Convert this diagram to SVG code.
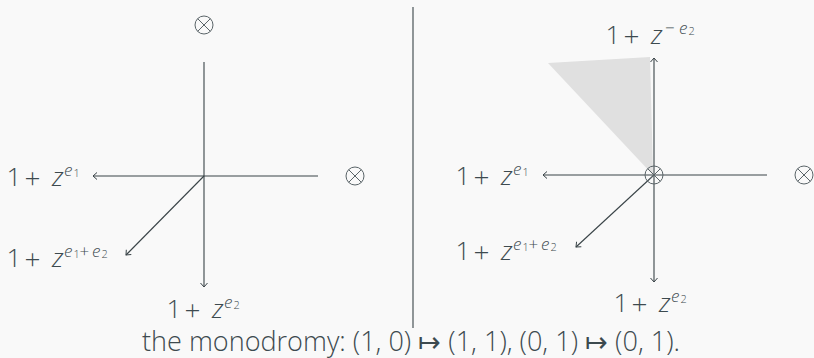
<svg xmlns="http://www.w3.org/2000/svg" width="814" height="358" viewBox="0 0 814 358">
<style>
text{font-family:"Open Sans","Noto Sans","DejaVu Sans",sans-serif;fill:#3d4a4f;font-weight:300}
.m{font-size:26px}
.p{font-size:28px}
.s{font-size:17px}
.ss{font-size:11px}
.i{font-style:italic}
.ln{stroke:#3a4448;stroke-width:1.1;fill:none}
.ot{stroke:#5a6468;stroke-width:1;fill:none}
</style>
<defs>
<marker id="ah" viewBox="-6 -5 8 10" markerWidth="8" markerHeight="10" refX="0" refY="0" orient="auto" markerUnits="userSpaceOnUse">
<path d="M-4,-3.5 L0,0 L-4,3.5" fill="none" stroke="#3a4448" stroke-width="1"/>
</marker>
<g id="otimes"><circle r="9" class="ot"/><path d="M-6.4,-6.4 L6.4,6.4 M-6.4,6.4 L6.4,-6.4" class="ot"/></g>
<g id="ze1"><text class="m" x="-3.5" y="0">1</text><text class="p" x="14.5" y="1.5">+</text><text class="m i" x="42" y="0">z</text><text class="s i" x="54" y="-10">e</text><text class="ss" x="63.5" y="-9">1</text></g>
<g id="ze2"><text class="m" x="-3.5" y="0">1</text><text class="p" x="14.5" y="1.5">+</text><text class="m i" x="42" y="0">z</text><text class="s i" x="54" y="-10">e</text><text class="ss" x="63.5" y="-9">2</text></g>
<g id="ze12"><use href="#ze1"/><text class="s" x="69.5" y="-10">+</text><text class="s i" x="82" y="-10">e</text><text class="ss" x="91.5" y="-9">2</text></g>
</defs>
<rect width="814" height="358" fill="#f9f9f9"/>
<g id="shade"><polygon points="548,63 650,57 653,175" fill="#e0e0e0"/></g>
<g id="connectors">
<line class="ln" x1="204" y1="62" x2="204" y2="287" marker-end="url(#ah)"/>
<line class="ln" x1="318" y1="176" x2="93" y2="176" marker-end="url(#ah)"/>
<line class="ln" x1="204" y1="176" x2="126" y2="255" marker-end="url(#ah)"/>
<line class="ln" x1="413" y1="7" x2="413" y2="328"/>
<line class="ln" x1="654" y1="175" x2="654" y2="58" marker-end="url(#ah)"/>
<line class="ln" x1="654" y1="175" x2="654" y2="282" marker-end="url(#ah)"/>
<line class="ln" x1="767" y1="175" x2="543" y2="175" marker-end="url(#ah)"/>
<line class="ln" x1="654" y1="175" x2="576" y2="247" marker-end="url(#ah)"/>
</g>
<g id="sing-top-left"><use href="#otimes" x="204" y="25"/></g>
<g id="sing-right-left"><use href="#otimes" x="355" y="176"/></g>
<g id="sing-center-right"><use href="#otimes" x="654" y="175"/></g>
<g id="sing-right-right"><use href="#otimes" x="804" y="175"/></g>
<g id="lbl-l-e1"><use href="#ze1" x="10" y="186"/></g>
<g id="lbl-l-e1e2"><use href="#ze12" x="10" y="267"/></g>
<g id="lbl-l-e2"><use href="#ze2" x="170" y="318"/></g>
<g id="lbl-r-me2" transform="translate(609,44)"><text class="m" x="-3.5" y="0">1</text><text class="p" x="14.5" y="1.5">+</text><text class="m i" x="42" y="0">z</text><text class="s" x="56" y="-10">−</text><text class="s i" x="70" y="-10">e</text><text class="ss" x="79.5" y="-9">2</text></g>
<g id="lbl-r-e1"><use href="#ze1" x="459" y="185"/></g>
<g id="lbl-r-e1e2"><use href="#ze12" x="459" y="260"/></g>
<g id="lbl-r-e2"><use href="#ze2" x="617" y="312"/></g>
<g id="caption"><text x="142" y="351" font-size="27" textLength="538" lengthAdjust="spacingAndGlyphs">the monodromy: (1, 0) ↦ (1, 1), (0, 1) ↦ (0, 1).</text></g>
</svg>
